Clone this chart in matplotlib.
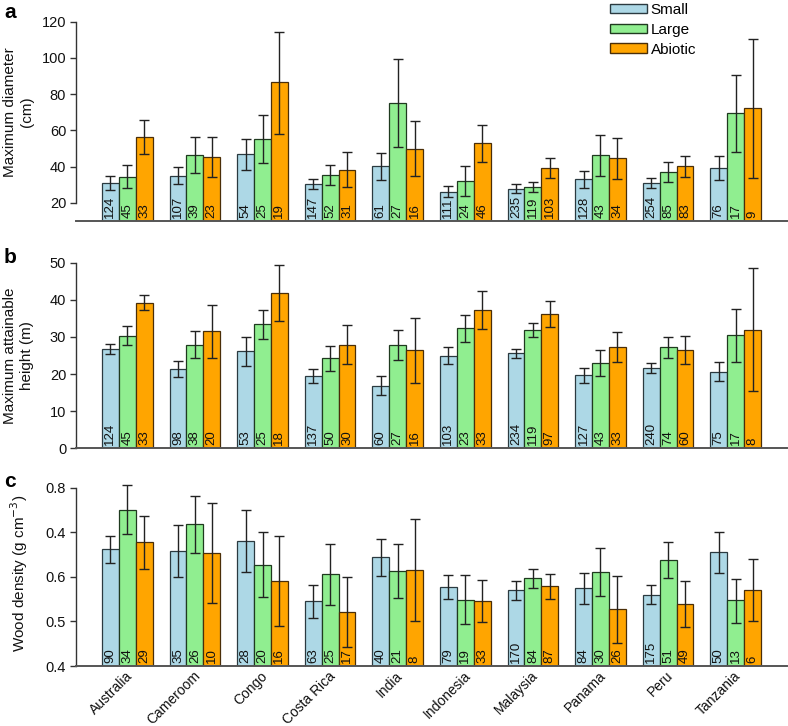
import matplotlib
matplotlib.use("Agg")
import matplotlib.pyplot as plt
from matplotlib.patches import Patch
from matplotlib.transforms import blended_transform_factory
import numpy as np

plt.rcParams['font.family'] = ['Liberation Sans', 'DejaVu Sans']

countries = ["Australia", "Cameroom", "Congo", "Costa Rica", "India",
             "Indonesia", "Malaysia", "Panama", "Peru", "Tanzania"]
groups = ["Small", "Large", "Abiotic"]
colors = ["#ADD8E6", "#90EE90", "#FFA500"]
edge_colors = ["#2b3a40", "#1f3a1f", "#4a2e08"]

# Panel a: maximum diameter (cm)
diam_small = [31.2, 35.1, 46.8, 30.3, 40.2, 26.1, 27.7, 33.1, 31.2, 39.5]
diam_small_lo = [27.2, 30.5, 38.2, 27.5, 32.7, 23.1, 25.7, 28.1, 28.5, 32.9]
diam_small_hi = [35.1, 39.7, 55.5, 33.2, 47.8, 29.4, 30.3, 37.6, 33.6, 46.1]
diam_large = [34.5, 46.3, 55.5, 35.6, 75.0, 32.1, 28.6, 46.3, 36.9, 69.6]
diam_large_lo = [28.5, 36.4, 42.1, 29.9, 50.9, 23.9, 26.1, 35.1, 31.4, 48.3]
diam_large_hi = [41.1, 56.6, 68.7, 41.1, 99.2, 40.6, 31.4, 57.7, 42.6, 90.8]
diam_abiotic = [56.2, 45.4, 86.5, 38.4, 50.0, 52.9, 39.5, 44.6, 40.4, 72.2]
diam_abiotic_lo = [47.0, 34.5, 58.2, 28.6, 34.9, 42.8, 34.0, 33.2, 34.5, 34.0]
diam_abiotic_hi = [65.8, 56.6, 114.3, 47.9, 65.2, 62.8, 44.8, 55.8, 46.1, 110.4]
diam_n_small = [124, 107, 54, 147, 61, 111, 235, 128, 254, 76]
diam_n_large = [45, 39, 25, 52, 27, 24, 119, 43, 85, 17]
diam_n_abiotic = [33, 23, 19, 31, 16, 46, 103, 34, 83, 9]

# Panel b: maximum attainable height (m)
height_small = [26.8, 21.3, 26.1, 19.6, 16.9, 25.0, 25.6, 19.7, 21.7, 20.6]
height_small_lo = [25.5, 19.1, 22.3, 17.7, 14.4, 22.7, 24.4, 17.7, 20.4, 18.0]
height_small_hi = [28.2, 23.4, 29.9, 21.4, 19.6, 27.2, 26.8, 21.5, 23.0, 23.2]
height_large = [30.3, 27.9, 33.5, 24.2, 27.7, 32.3, 31.9, 23.0, 27.2, 30.4]
height_large_lo = [27.7, 24.2, 29.4, 20.9, 23.7, 28.6, 30.0, 19.5, 24.3, 23.2]
height_large_hi = [32.9, 31.7, 37.3, 27.6, 31.8, 36.0, 33.7, 26.4, 30.1, 37.6]
height_abiotic = [39.2, 31.5, 41.9, 27.9, 26.4, 37.3, 36.2, 27.4, 26.6, 32.0]
height_abiotic_lo = [37.3, 24.2, 34.4, 22.6, 17.6, 32.2, 32.6, 23.2, 22.8, 15.4]
height_abiotic_hi = [41.2, 38.7, 49.3, 33.1, 35.2, 42.4, 39.7, 31.4, 30.2, 48.7]
height_n_small = [124, 98, 53, 137, 60, 103, 234, 127, 240, 75]
height_n_large = [45, 38, 25, 50, 27, 23, 119, 43, 74, 17]
height_n_abiotic = [33, 20, 18, 30, 16, 33, 97, 33, 60, 8]

# Panel c: wood density (g cm-3)
wood_small = [0.662, 0.658, 0.680, 0.546, 0.644, 0.577, 0.570, 0.575, 0.560, 0.655]
wood_small_lo = [0.631, 0.599, 0.610, 0.508, 0.602, 0.550, 0.548, 0.540, 0.538, 0.609]
wood_small_hi = [0.692, 0.716, 0.749, 0.582, 0.684, 0.604, 0.591, 0.608, 0.582, 0.700]
wood_large = [0.751, 0.718, 0.627, 0.606, 0.612, 0.549, 0.597, 0.610, 0.638, 0.547]
wood_large_lo = [0.695, 0.653, 0.555, 0.536, 0.552, 0.495, 0.575, 0.556, 0.597, 0.497]
wood_large_hi = [0.807, 0.781, 0.700, 0.674, 0.673, 0.603, 0.618, 0.665, 0.678, 0.595]
wood_abiotic = [0.677, 0.653, 0.591, 0.521, 0.615, 0.546, 0.579, 0.527, 0.540, 0.571]
wood_abiotic_lo = [0.618, 0.542, 0.490, 0.443, 0.501, 0.499, 0.551, 0.452, 0.487, 0.501]
wood_abiotic_hi = [0.736, 0.765, 0.691, 0.599, 0.729, 0.593, 0.606, 0.602, 0.591, 0.641]
wood_n_small = [90, 35, 28, 63, 40, 79, 170, 84, 175, 50]
wood_n_large = [34, 26, 20, 25, 21, 19, 84, 30, 51, 13]
wood_n_abiotic = [29, 10, 16, 17, 8, 33, 87, 26, 49, 6]

# tick labels as printed in the original figure
diam_ticks = [20, 40, 60, 80, 100, 120]
height_ticks = [0, 10, 20, 30, 40, 50]
wood_ticks = [0.4, 0.5, 0.6, 0.7, 0.8]
wood_ticklabels = ["0.4", "0.5", "0.6", "0.4", "0.8"]

W, H = 788, 726
fig = plt.figure(figsize=(W / 100, H / 100), dpi=100)


def fy(px):
    return 1 - px / H


left = 75.6 / W
width = (787.4 - 75.6) / W

panels = [
    dict(top=21.7, bottom=221.1, ylim=(10, 120), bounds=(20, 120),
         ticks=diam_ticks, ticklabels=[str(t) for t in diam_ticks],
         means=[diam_small, diam_large, diam_abiotic],
         lo=[diam_small_lo, diam_large_lo, diam_abiotic_lo],
         hi=[diam_small_hi, diam_large_hi, diam_abiotic_hi],
         n=[diam_n_small, diam_n_large, diam_n_abiotic],
         ylabel="Maximum diameter\n(cm)", lab_x=-0.0584, lab_y=0.547,
         letter="a", letter_y=18),
    dict(top=262.7, bottom=448.3, ylim=(0, 50), bounds=(0, 50),
         ticks=height_ticks, ticklabels=[str(t) for t in height_ticks],
         means=[height_small, height_large, height_abiotic],
         lo=[height_small_lo, height_large_lo, height_abiotic_lo],
         hi=[height_small_hi, height_large_hi, height_abiotic_hi],
         n=[height_n_small, height_n_large, height_n_abiotic],
         ylabel="Maximum attainable\nheight (m)", lab_x=-0.0584, lab_y=0.5,
         letter="b", letter_y=263),
    dict(top=483.2, bottom=666.0, ylim=(0.4, 0.81), bounds=(0.4, 0.8),
         ticks=wood_ticks, ticklabels=wood_ticklabels,
         means=[wood_small, wood_large, wood_abiotic],
         lo=[wood_small_lo, wood_large_lo, wood_abiotic_lo],
         hi=[wood_small_hi, wood_large_hi, wood_abiotic_hi],
         n=[wood_n_small, wood_n_large, wood_n_abiotic],
         ylabel="Wood density (g cm$^{-3}$)", lab_x=-0.064, lab_y=0.505,
         letter="c", letter_y=487),
]

ng = len(countries)
group_start = np.arange(ng) * 4 + 1.0  # R barplot beside layout: gap of one bar

for pi, p in enumerate(panels):
    ax = fig.add_axes([left, fy(p["bottom"]), width, fy(p["top"]) - fy(p["bottom"])])
    ax.set_xlim(-0.56, 41.56)
    ax.set_ylim(*p["ylim"])
    base = p["ylim"][0]
    for j in range(3):
        xs = group_start + j + 0.5
        m = np.array(p["means"][j])
        lo = np.array(p["lo"][j])
        hi = np.array(p["hi"][j])
        ax.bar(xs, m - base, bottom=base, width=1.0, color=colors[j],
               edgecolor=edge_colors[j], linewidth=0.9, zorder=2)
        ax.errorbar(xs, m, yerr=[m - lo, hi - m], fmt="none", ecolor="#222222",
                    elinewidth=1.0, capsize=3.3, capthick=1.0, zorder=3,
                    clip_on=False)
        for x, n in zip(xs, p["n"][j]):
            ax.annotate(str(n), xy=(x, base), xytext=(0, 2.5),
                        textcoords="offset points", rotation=90,
                        ha="center", va="bottom", fontsize=9.5,
                        color="#111111", zorder=4)
    for s in ["top", "right"]:
        ax.spines[s].set_visible(False)
    ax.spines["left"].set_bounds(*p["bounds"])
    ax.spines["left"].set_color("#333333")
    ax.spines["left"].set_linewidth(1.0)
    ax.spines["bottom"].set_color("#555555")
    ax.spines["bottom"].set_linewidth(1.4)
    ax.set_xticks([])
    ax.set_yticks(p["ticks"])
    ax.set_yticklabels(p["ticklabels"])
    ax.tick_params(axis="y", length=4.3, width=1.0, color="#333333",
                   labelsize=10.5, pad=2.5, labelcolor="#111111")
    ax.set_ylabel(p["ylabel"], fontsize=11, linespacing=1.3, color="#111111")
    ax.yaxis.set_label_coords(p["lab_x"], p["lab_y"])
    fig.text(4 / W, fy(p["letter_y"]), p["letter"], fontsize=15,
             fontweight="bold", ha="left", va="baseline")
    if pi == 2:
        trans = blended_transform_factory(ax.transData, ax.transAxes)
        for gi, c in enumerate(countries):
            ax.annotate(c, xy=(group_start[gi] + 1.5, 0), xycoords=trans,
                        xytext=(-1.5, -2), textcoords="offset points",
                        rotation=45, rotation_mode="anchor", ha="right",
                        va="top", fontsize=10, color="#111111")

handles = [Patch(facecolor=colors[j], edgecolor=edge_colors[j], linewidth=1.0)
           for j in range(3)]
fig.legend(handles, groups, loc="upper left", bbox_to_anchor=(610 / W, fy(3)),
           frameon=False, fontsize=11, handlelength=2.4, handleheight=0.6,
           handletextpad=0.25, labelspacing=0.38, borderpad=0, borderaxespad=0)

fig.savefig("out.png", dpi=100)
